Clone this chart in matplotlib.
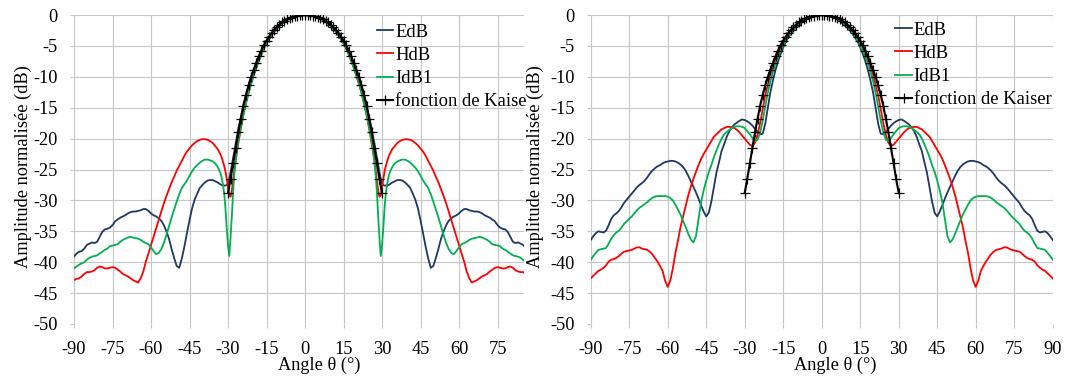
import numpy as np
import matplotlib
matplotlib.use('Agg')
import matplotlib.pyplot as plt

plt.rcParams['font.family'] = ['Liberation Serif', 'DejaVu Serif']
plt.rcParams['axes.unicode_minus'] = False

# ---------------- data ----------------
# left chart: sample angles (deg)
angles_a = np.concatenate([np.arange(-90, -33), np.arange(-33, -25.9, 0.5),
                           np.arange(-25, 26), np.arange(26, 33.1, 0.5),
                           np.arange(34, 91)])
# right chart: sample angles (deg)
angles_b = np.arange(-90, 91)
# Kaiser function samples
angles_k = np.arange(-30, 31)

edb_a = [
    -39.1, -38.6, -38.3, -38.2, -37.8, -37.2, -37.0, -36.8, -36.9, -36.7,
    -35.9, -35.1, -34.7, -34.6, -34.4, -34.0, -33.4, -33.1, -32.8, -32.6,
    -32.4, -32.1, -31.9, -31.8, -31.8, -31.7, -31.6, -31.4, -31.4, -31.7,
    -32.1, -32.4, -32.6, -32.9, -33.3, -34.0, -35.0, -36.2, -37.8, -39.3,
    -40.6, -40.9, -39.4, -37.5, -35.3, -33.2, -31.3, -29.9, -28.9, -28.0,
    -27.5, -27.1, -26.8, -26.7, -26.7, -26.9, -27.1,
    -27.4, -27.5, -27.6, -27.6, -27.6, -27.5, -27.2, -26.5, -25.4, -24.3, -23.1, -21.9, -20.7, -19.6, -18.5,
    -16.5, -14.6, -12.95, -11.4, -10.05, -8.85, -7.75, -6.7, -5.75, -4.85, -4.15, -3.5, -2.9, -2.4, -1.95,
    -1.55, -1.2, -0.93, -0.71, -0.52, -0.37, -0.24, -0.13, -0.06, -0.02,
    0.0,
    -0.02, -0.06, -0.13, -0.24, -0.37, -0.52, -0.71, -0.93, -1.2, -1.55,
    -1.95, -2.4, -2.9, -3.5, -4.15, -4.85, -5.75, -6.7, -7.75, -8.85, -10.05, -11.4, -12.95, -14.6, -16.5,
    -18.5, -19.6, -20.7, -21.9, -23.1, -24.3, -25.4, -26.5, -27.2, -27.5, -27.6, -27.6, -27.6, -27.5, -27.4,
    -27.1, -26.9, -26.7, -26.7, -26.8, -27.1, -27.5,
    -28.0, -28.9, -29.9, -31.3, -33.2, -35.3, -37.5, -39.4, -40.9, -40.6,
    -39.3, -37.8, -36.2, -35.0, -34.0, -33.3, -32.9, -32.6, -32.4, -32.1,
    -31.7, -31.4, -31.4, -31.6, -31.7, -31.8, -31.8, -31.9, -32.1, -32.4,
    -32.6, -32.8, -33.1, -33.4, -34.0, -34.4, -34.6, -34.7, -35.1, -35.9,
    -36.7, -36.9, -36.8, -37.0, -37.2, -37.8, -38.2, -38.3, -38.6, -39.1,
]

hdb_a = [
    -42.9, -42.7, -42.6, -42.3, -41.9, -41.6, -41.6, -41.5, -41.3, -40.9,
    -40.7, -40.8, -41.0, -41.0, -40.9, -40.8, -40.9, -41.2, -41.5, -41.9,
    -42.1, -42.3, -42.6, -42.9, -43.1, -43.3, -42.6, -41.5, -39.9, -38.6,
    -37.2, -35.9, -34.5, -33.2, -31.8, -30.5, -29.3, -28.2, -27.1, -26.2,
    -25.2, -24.4, -23.6, -22.8, -22.1, -21.6, -21.1, -20.7, -20.4, -20.2,
    -20.1, -20.1, -20.2, -20.4, -20.7, -21.2, -21.7,
    -22.5, -23.0, -23.7, -24.4, -25.3, -26.5, -27.9, -29.2, -29.4, -28.4, -26.7, -25.0, -23.5, -22.1, -20.8,
    -18.4, -16.2, -14.3, -12.6, -11.1, -9.75, -8.55, -7.4, -6.35, -5.4, -4.6, -3.9, -3.25, -2.7, -2.2,
    -1.75, -1.36, -1.06, -0.81, -0.6, -0.42, -0.27, -0.15, -0.07, -0.02,
    0.0,
    -0.02, -0.07, -0.15, -0.27, -0.42, -0.6, -0.81, -1.06, -1.36, -1.75,
    -2.2, -2.7, -3.25, -3.9, -4.6, -5.4, -6.35, -7.4, -8.55, -9.75, -11.1, -12.6, -14.3, -16.2, -18.4,
    -20.8, -22.1, -23.5, -25.0, -26.7, -28.4, -29.4, -29.2, -27.9, -26.5, -25.3, -24.4, -23.7, -23.0, -22.5,
    -21.7, -21.2, -20.7, -20.4, -20.2, -20.1, -20.1,
    -20.2, -20.4, -20.7, -21.1, -21.6, -22.1, -22.8, -23.6, -24.4, -25.2,
    -26.2, -27.1, -28.2, -29.3, -30.5, -31.8, -33.2, -34.5, -35.9, -37.2,
    -38.6, -39.9, -41.5, -42.6, -43.3, -43.1, -42.9, -42.6, -42.3, -42.1,
    -41.9, -41.5, -41.2, -40.9, -40.8, -40.9, -41.0, -41.0, -40.8, -40.7,
    -40.9, -41.3, -41.5, -41.6, -41.6, -41.9, -42.3, -42.6, -42.7, -42.9,
]

idb1_a = [
    -41.0, -40.7, -40.4, -40.2, -40.0, -39.6, -39.3, -39.1, -39.0, -38.9,
    -38.6, -38.3, -38.0, -37.8, -37.4, -37.3, -37.2, -37.1, -36.7, -36.4,
    -36.2, -36.0, -35.9, -36.0, -36.1, -36.2, -36.4, -36.7, -36.9, -37.1,
    -37.6, -38.2, -38.7, -38.5, -37.9, -36.9, -35.6, -34.2, -32.8, -31.5,
    -30.2, -29.0, -28.0, -27.4, -26.8, -26.0, -25.3, -24.7, -24.3, -23.9,
    -23.6, -23.4, -23.4, -23.5, -23.7, -24.0, -24.6,
    -25.5, -26.3, -27.3, -28.8, -31.2, -34.5, -37.3, -39.0, -36.0, -32.5, -28.6, -25.6, -23.5, -21.9, -20.5,
    -18.2, -16.1, -14.3, -12.6, -11.1, -9.75, -8.55, -7.4, -6.35, -5.4, -4.6, -3.9, -3.25, -2.7, -2.2,
    -1.75, -1.36, -1.06, -0.81, -0.6, -0.42, -0.27, -0.15, -0.07, -0.02,
    0.0,
    -0.02, -0.07, -0.15, -0.27, -0.42, -0.6, -0.81, -1.06, -1.36, -1.75,
    -2.2, -2.7, -3.25, -3.9, -4.6, -5.4, -6.35, -7.4, -8.55, -9.75, -11.1, -12.6, -14.3, -16.1, -18.2,
    -20.5, -21.9, -23.5, -25.6, -28.6, -32.5, -36.0, -39.0, -37.3, -34.5, -31.2, -28.8, -27.3, -26.3, -25.5,
    -24.6, -24.0, -23.7, -23.5, -23.4, -23.4, -23.6,
    -23.9, -24.3, -24.7, -25.3, -26.0, -26.8, -27.4, -28.0, -29.0, -30.2,
    -31.5, -32.8, -34.2, -35.6, -36.9, -37.9, -38.5, -38.7, -38.2, -37.6,
    -37.1, -36.9, -36.7, -36.4, -36.2, -36.1, -36.0, -35.9, -36.0, -36.2,
    -36.4, -36.7, -37.1, -37.2, -37.3, -37.4, -37.8, -38.0, -38.3, -38.6,
    -38.9, -39.0, -39.1, -39.3, -39.6, -40.0, -40.2, -40.4, -40.7, -41.0,
]

edb_b = [
    -36.4, -35.8, -35.3, -35.0, -35.1, -35.2, -34.9, -34.0, -33.0, -32.4,
    -32.1, -31.7, -31.1, -30.4, -29.9, -29.4, -28.9, -28.4, -27.9, -27.5,
    -27.2, -26.8, -26.3, -25.7, -25.2, -24.8, -24.5, -24.3, -24.0, -23.8,
    -23.7, -23.6, -23.6, -23.7, -23.9, -24.2, -24.6, -25.2, -26.0, -26.9,
    -27.8, -28.7, -29.7, -30.8, -31.8, -32.6, -32.0, -30.2, -27.8, -25.5,
    -23.8, -22.0, -20.9, -19.7, -18.8, -18.2, -17.7, -17.4, -17.1, -16.9,
    -17.0, -17.2, -17.5, -17.9, -18.4, -18.9, -19.3, -19.2, -17.6, -15.0,
    -12.5, -10.6, -8.9, -7.5, -6.3, -5.25, -4.35, -3.65, -3.05, -2.5,
    -2.05, -1.7, -1.3, -0.95, -0.7, -0.48, -0.3, -0.17, -0.08, -0.02,
    0.0,
    -0.02, -0.08, -0.17, -0.3, -0.48, -0.7, -0.95, -1.3, -1.7, -2.05,
    -2.5, -3.05, -3.65, -4.35, -5.25, -6.3, -7.5, -8.9, -10.6, -12.5,
    -15.0, -17.6, -19.2, -19.3, -18.9, -18.4, -17.9, -17.5, -17.2, -17.0,
    -16.9, -17.1, -17.4, -17.7, -18.2, -18.8, -19.7, -20.9, -22.0, -23.8,
    -25.5, -27.8, -30.2, -32.0, -32.6, -31.8, -30.8, -29.7, -28.7, -27.8,
    -26.9, -26.0, -25.2, -24.6, -24.2, -23.9, -23.7, -23.6, -23.6, -23.7,
    -23.8, -24.0, -24.3, -24.5, -24.8, -25.2, -25.7, -26.3, -26.8, -27.2,
    -27.5, -27.9, -28.4, -28.9, -29.4, -29.9, -30.4, -31.1, -31.7, -32.1,
    -32.4, -33.0, -34.0, -34.9, -35.2, -35.1, -35.0, -35.3, -35.8, -36.4,
]

hdb_b = [
    -42.6, -42.2, -41.8, -41.4, -41.2, -40.9, -40.5, -39.9, -39.6, -39.5,
    -39.3, -39.0, -38.6, -38.3, -38.2, -38.1, -38.0, -37.8, -37.6, -37.6,
    -37.8, -37.9, -38.0, -38.3, -38.7, -39.3, -39.9, -40.6, -41.4, -43.0,
    -44.0, -43.0, -41.0, -38.5, -36.5, -34.3, -32.6, -30.9, -29.2, -27.8,
    -26.5, -25.4, -24.3, -23.3, -22.5, -21.8, -21.1, -20.4, -19.7, -19.3,
    -18.9, -18.5, -18.3, -18.1, -18.1, -18.15, -18.3, -18.6, -19.0, -19.5,
    -20.0, -20.5, -21.0, -21.2, -20.7, -19.4, -17.5, -15.2, -13.0, -11.3,
    -9.6, -8.4, -7.3, -6.2, -5.2, -4.4, -3.8, -3.2, -2.7, -2.2,
    -1.8, -1.4, -1.05, -0.78, -0.58, -0.4, -0.25, -0.14, -0.06, -0.015,
    0.0,
    -0.015, -0.06, -0.14, -0.25, -0.4, -0.58, -0.78, -1.05, -1.4, -1.8,
    -2.2, -2.7, -3.2, -3.8, -4.4, -5.2, -6.2, -7.3, -8.4, -9.6,
    -11.3, -13.0, -15.2, -17.5, -19.4, -20.7, -21.2, -21.0, -20.5, -20.0,
    -19.5, -19.0, -18.6, -18.3, -18.15, -18.1, -18.1, -18.3, -18.5, -18.9,
    -19.3, -19.7, -20.4, -21.1, -21.8, -22.5, -23.3, -24.3, -25.4, -26.5,
    -27.8, -29.2, -30.9, -32.6, -34.3, -36.5, -38.5, -41.0, -43.0, -44.0,
    -43.0, -41.4, -40.6, -39.9, -39.3, -38.7, -38.3, -38.0, -37.9, -37.8,
    -37.6, -37.6, -37.8, -38.0, -38.1, -38.2, -38.3, -38.6, -39.0, -39.3,
    -39.5, -39.6, -39.9, -40.5, -40.9, -41.2, -41.4, -41.8, -42.2, -42.6,
]

idb1_b = [
    -39.6, -39.0, -38.5, -38.0, -37.9, -37.8, -37.7, -37.0, -36.2, -35.6,
    -35.2, -34.9, -34.4, -33.8, -33.4, -33.0, -32.6, -32.1, -31.6, -31.2,
    -30.9, -30.6, -30.3, -29.9, -29.6, -29.4, -29.3, -29.3, -29.3, -29.3,
    -29.4, -29.6, -30.0, -30.7, -31.5, -32.3, -33.3, -34.3, -35.4, -36.3,
    -36.8, -35.8, -33.0, -30.3, -28.4, -26.8, -25.4, -24.3, -23.0, -21.9,
    -20.9, -20.0, -19.3, -18.9, -18.6, -18.3, -18.1, -18.0, -18.0, -18.1,
    -18.3, -18.8, -19.3, -19.9, -20.4, -20.2, -19.0, -17.1, -14.8, -12.6,
    -10.7, -9.2, -7.9, -6.8, -5.8, -4.95, -4.2, -3.5, -2.95, -2.4,
    -1.95, -1.55, -1.2, -0.88, -0.63, -0.43, -0.27, -0.15, -0.07, -0.02,
    0.0,
    -0.02, -0.07, -0.15, -0.27, -0.43, -0.63, -0.88, -1.2, -1.55, -1.95,
    -2.4, -2.95, -3.5, -4.2, -4.95, -5.8, -6.8, -7.9, -9.2, -10.7,
    -12.6, -14.8, -17.1, -19.0, -20.2, -20.4, -19.9, -19.3, -18.8, -18.3,
    -18.1, -18.0, -18.0, -18.1, -18.3, -18.6, -18.9, -19.3, -20.0, -20.9,
    -21.9, -23.0, -24.3, -25.4, -26.8, -28.4, -30.3, -33.0, -35.8, -36.8,
    -36.3, -35.4, -34.3, -33.3, -32.3, -31.5, -30.7, -30.0, -29.6, -29.4,
    -29.3, -29.3, -29.3, -29.3, -29.4, -29.6, -29.9, -30.3, -30.6, -30.9,
    -31.2, -31.6, -32.1, -32.6, -33.0, -33.4, -33.8, -34.4, -34.9, -35.2,
    -35.6, -36.2, -37.0, -37.7, -37.8, -37.9, -38.0, -38.5, -39.0, -39.6,
]

kaiser = [
    -28.8, -26.5, -24.0, -21.5, -19.0, -16.8, -14.7, -12.95, -11.4, -10.05,
    -8.85, -7.75, -6.7, -5.75, -4.85, -4.15, -3.5, -2.9, -2.4, -1.95,
    -1.55, -1.2, -0.93, -0.71, -0.52, -0.37, -0.24, -0.13, -0.06, -0.015,
    0.0,
    -0.015, -0.06, -0.13, -0.24, -0.37, -0.52, -0.71, -0.93, -1.2, -1.55,
    -1.95, -2.4, -2.9, -3.5, -4.15, -4.85, -5.75, -6.7, -7.75, -8.85,
    -10.05, -11.4, -12.95, -14.7, -16.8, -19.0, -21.5, -24.0, -26.5, -28.8,
]

x_ticks = [-90, -75, -60, -45, -30, -15, 0, 15, 30, 45, 60, 75, 90]
y_ticks = [-50, -45, -40, -35, -30, -25, -20, -15, -10, -5, 0]
labels_a = ['EdB', 'HdB', 'IdB1', 'fonction de Kaise']
labels_b = ['EdB', 'HdB', 'IdB1', 'fonction de Kaiser']

# ---------------- figure ----------------
W, H = 1069, 377
fig = plt.figure(figsize=(W / 100, H / 100), dpi=100)


def px_axes(x0, x1, y0=15, y1=324):
    return fig.add_axes([x0 / W, 1 - y1 / H, (x1 - x0) / W, (y1 - y0) / H])


ax1 = px_axes(74, 524.2)
ax2 = px_axes(590.7, 1052.7)

C_E, C_H, C_I = '#1f3864', '#ff0000', '#00b050'
GRID = '#c6c6c6'


def draw(ax, ang, e, h, i, labels, xmax, leg_x, leg_y, ylab_x, xlab_x):
    ax.plot(ang, e, color=C_E, lw=1.3, label=labels[0])
    ax.plot(ang, h, color=C_H, lw=1.3, label=labels[1])
    ax.plot(ang, i, color=C_I, lw=1.3, label=labels[2])
    ax.plot(angles_k, kaiser, color='black', lw=1.5, marker='+', ms=6.5,
            mew=0.9, label=labels[3])
    ax.set_xlim(-90, xmax)
    ax.set_ylim(-50, 0)
    ax.set_xticks([t for t in x_ticks if t <= xmax])
    ax.set_yticks(y_ticks)
    ax.grid(True, color=GRID, lw=0.8)
    ax.set_axisbelow(True)
    for s in ax.spines.values():
        s.set_visible(False)
    ax.tick_params(axis='both', direction='out', length=3.2, width=0.8,
                   color=GRID, labelsize=13.2)
    ax.tick_params(axis='y', pad=8.4)
    ax.tick_params(axis='x', pad=9)
    ax.set_ylabel('Amplitude normalisée (dB)', fontsize=13.2)
    ax.yaxis.set_label_coords(ylab_x, 0.51)
    ax.set_xlabel('Angle θ (°)', fontsize=13.2)
    ax.xaxis.set_label_coords(xlab_x, -0.105)
    ax.legend(loc='upper left', bbox_to_anchor=(leg_x, leg_y), frameon=False,
              borderpad=0, borderaxespad=0, handlelength=0.9,
              handletextpad=0.1, labelspacing=0.33, fontsize=13.4)


draw(ax1, angles_a, edb_a, hdb_a, idb1_a, labels_a, 85.4, 0.672, 0.972, -0.093, 0.544)
draw(ax2, angles_b, edb_b, hdb_b, idb1_b, labels_b, 90, 0.659, 0.978, -0.101, 0.530)

fig.savefig('out.png', dpi=100)
